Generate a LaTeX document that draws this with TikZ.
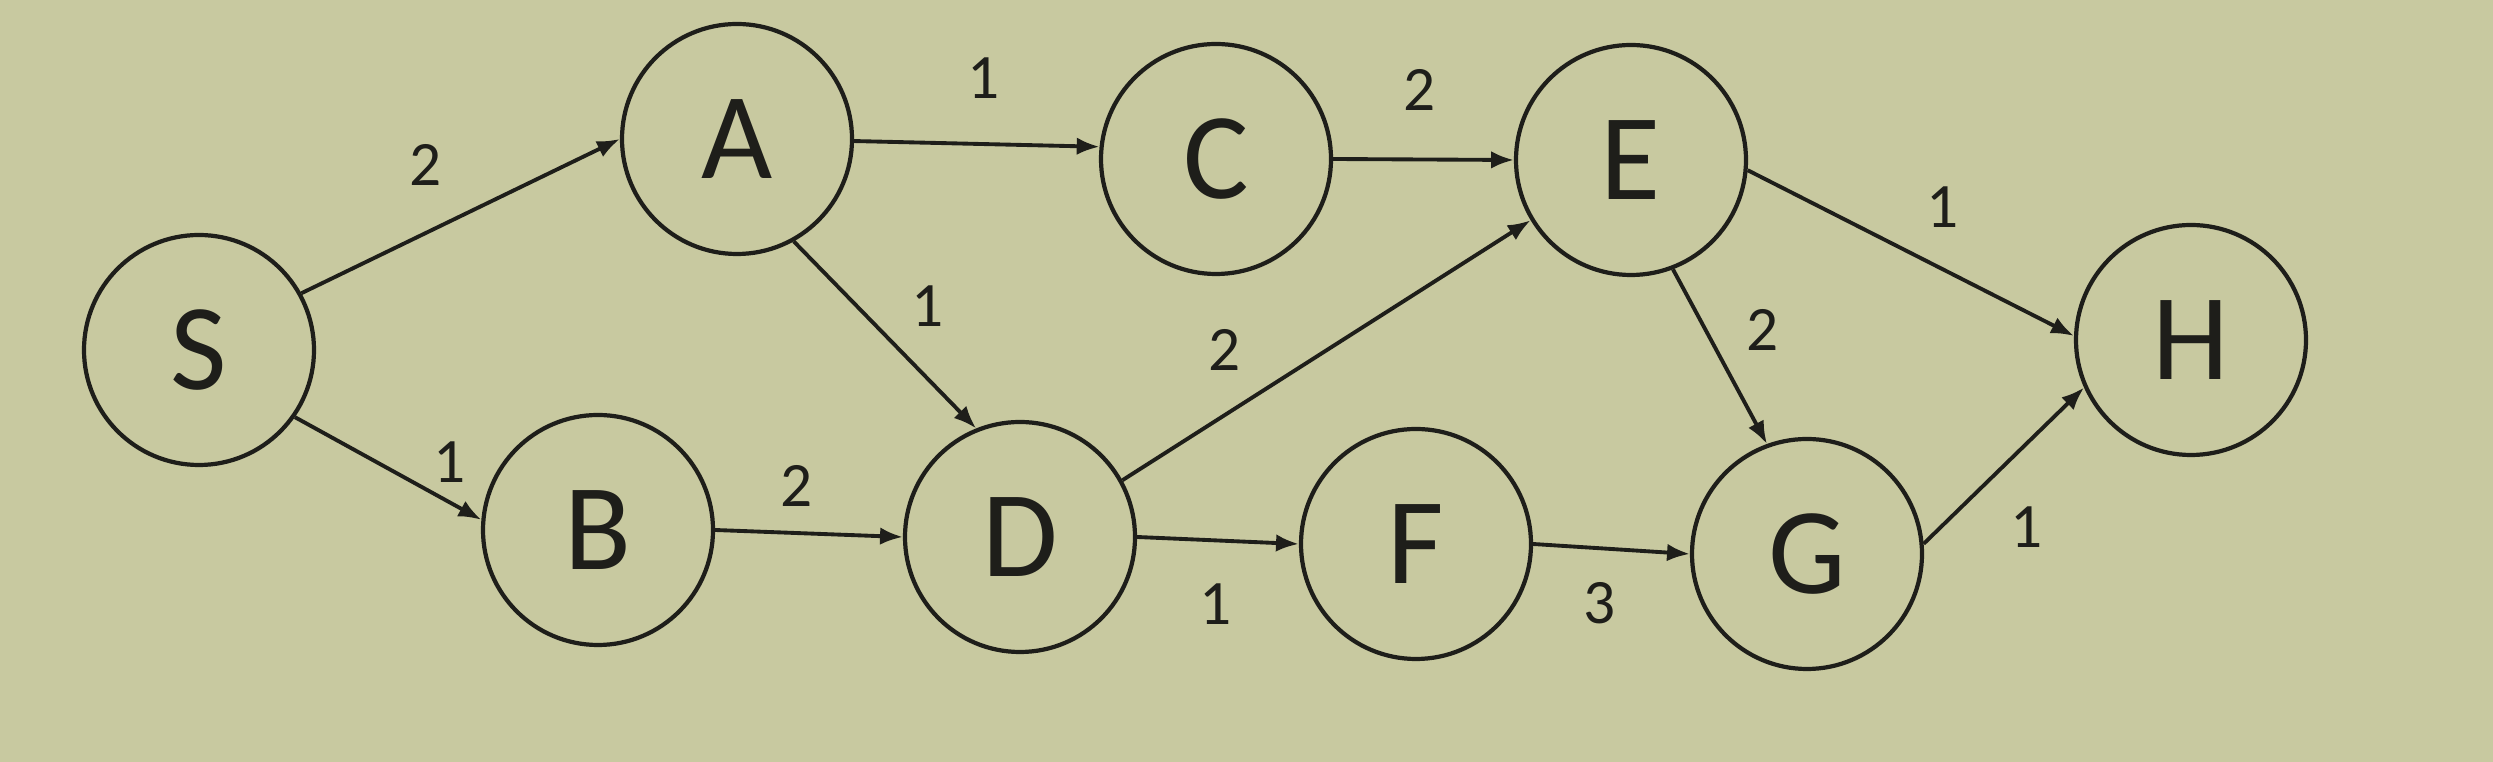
\documentclass[tikz,border=0pt]{standalone}
\usepackage{fontspec}
\setmainfont{Carlito}
\usetikzlibrary{arrows.meta}
\definecolor{screen}{RGB}{200,201,160}
\definecolor{ink}{RGB}{30,30,26}
\tikzset{
  vertex/.style={circle, draw=ink, line width=1.2pt, minimum size=2.3cm, inner sep=0pt, font=\fontsize{35}{40}\selectfont, text=ink},
  arc/.style={draw=ink, line width=1.1pt, -{Latex[length=6.5pt,width=5pt]}},
  weight/.style={font=\fontsize{18}{20}\selectfont, text=ink, inner sep=0pt}
}
\begin{document}
\begin{tikzpicture}
\fill [screen] (0,0) rectangle (24.93,7.62);
\useasboundingbox (0,0) rectangle (24.93,7.62);

%Vertices
\node [vertex] (S) at (1.99,4.12) {S};
\node [vertex] (A) at (7.37,6.23) {A};
\node [vertex] (C) at (12.16,6.03) {C};
\node [vertex] (E) at (16.31,6.02) {E};
\node [vertex] (H) at (21.91,4.22) {H};
\node [vertex] (B) at (5.98,2.32) {B};
\node [vertex] (D) at (10.20,2.25) {D};
\node [vertex] (F) at (14.16,2.18) {F};
\node [vertex] (G) at (18.07,2.08) {G};

%Arcs
\draw [arc] (S.29) -- (A.180);
\draw [arc] (S.-35) -- (B.175);
\draw [arc] (A.-1) -- (C.174);
\draw [arc] (A.-61) -- (D.112);
\draw [arc] (B.east) -- (D.west);
\draw [arc] (C.east) -- (E.west);
\draw [arc] (D.29) -- (E.211);
\draw [arc] (D.east) -- (F.west);
\draw [arc] (E.-5) -- (H.178);
\draw [arc] (E.-69) -- (G.110);
\draw [arc] (F.east) -- (G.west);
\draw [arc] (G.5) -- (H.204);

%Weights
\foreach \x/\y/\w [count=\i] in {4.26/5.97/2, 9.84/6.84/1, 9.28/4.56/1, 12.25/4.12/2,
    4.50/3.00/1, 7.97/2.76/2, 12.16/1.58/1, 14.20/6.72/2,
    19.43/5.55/1, 17.63/4.32/2, 16.00/1.59/3, 20.27/2.35/1}
  \node [weight] (w\i) at (\x,\y) {\w};
\end{tikzpicture}
\end{document}
